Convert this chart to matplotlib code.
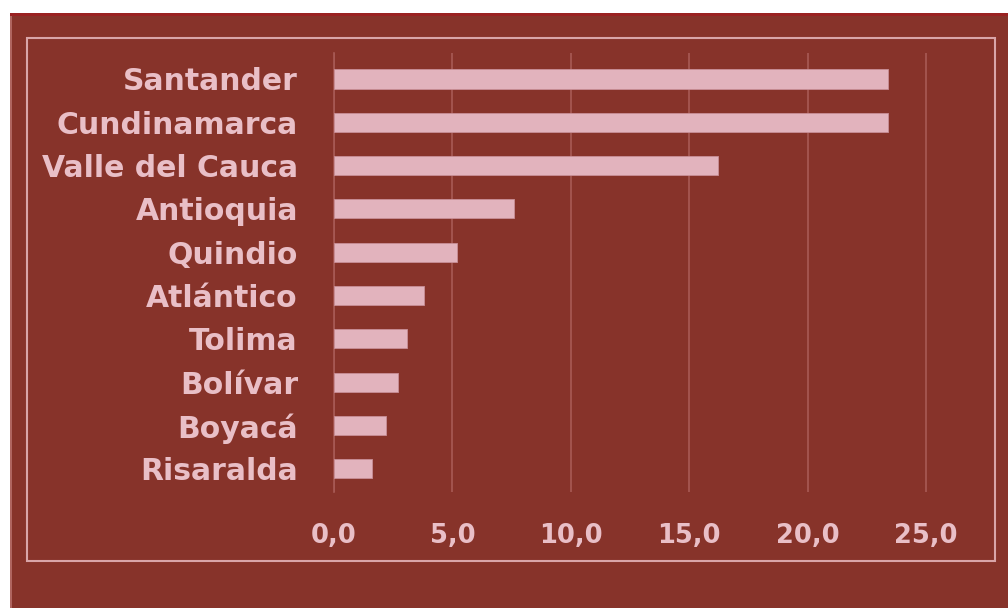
import numpy as np
import matplotlib
matplotlib.use('Agg')
import matplotlib.pyplot as plt
from matplotlib.patches import Rectangle

departamentos = ['Santander', 'Cundinamarca', 'Valle del Cauca', 'Antioquia', 'Quindio',
                 'Atlántico', 'Tolima', 'Bolívar', 'Boyacá', 'Risaralda']
valores = [23.4, 23.4, 16.2, 7.6, 5.2, 3.8, 3.1, 2.7, 2.2, 1.6]
xticks = [0, 5, 10, 15, 20, 25]
xlabels = ['0,0', '5,0', '10,0', '15,0', '20,0', '25,0']

fondo = '#87332a'
rosa = '#e2b3bd'
texto = '#e9bfc7'
grid = '#a85a55'

W, H = 1008, 608
fig = plt.figure(figsize=(W / 100, H / 100), dpi=100, facecolor='white')

# red panel with the white strip on top/left
fig.patches.append(Rectangle((10 / W, 0), 1 - 10 / W, (H - 13) / H, transform=fig.transFigure,
                             facecolor=fondo, edgecolor='none', zorder=-10))
fig.patches.append(Rectangle((10 / W, (H - 16) / H), 1 - 10 / W, 3 / H, transform=fig.transFigure,
                             facecolor='#9a2121', edgecolor='none', zorder=-9))
fig.patches.append(Rectangle((10 / W, 0), 1.5 / W, (H - 16) / H, transform=fig.transFigure,
                             facecolor='#b06560', edgecolor='none', zorder=-9))
# inner frame
fig.patches.append(Rectangle((27 / W, (H - 561) / H), (995 - 27) / W, (561 - 38) / H,
                             transform=fig.transFigure, facecolor='none',
                             edgecolor='#d9a5a8', linewidth=1.5, zorder=-8))

ax = fig.add_axes([334 / W, (H - 492) / H, 26.5 * 23.68 / W, 439 / H])
ax.set_facecolor('none')
ax.set_zorder(1)

y = np.arange(len(departamentos))
ax.barh(y, valores, height=0.44, color=rosa, edgecolor='#c98f98', linewidth=0.6, zorder=3)

ax.set_xlim(0, 26.5)
ax.set_ylim(9.54, -0.6)
ax.set_xticks(xticks)
ax.set_xticklabels(xlabels)
ax.set_yticks(y)
ax.set_yticklabels(departamentos)

for lbl in ax.get_yticklabels():
    lbl.set_fontweight('bold')
    lbl.set_color(texto)
    lbl.set_fontsize(21.5)
for lbl in ax.get_xticklabels():
    lbl.set_fontweight('bold')
    lbl.set_color(texto)
    lbl.set_fontsize(18.5)

ax.tick_params(axis='y', length=0, pad=26)
ax.tick_params(axis='x', length=0, pad=22)
ax.grid(axis='x', color=grid, linewidth=1.2, zorder=0)
for s in ['top', 'right', 'bottom']:
    ax.spines[s].set_visible(False)
ax.spines['left'].set_color(grid)
ax.spines['left'].set_linewidth(1.2)

fig.savefig('out.png', dpi=100, facecolor=fig.get_facecolor())
